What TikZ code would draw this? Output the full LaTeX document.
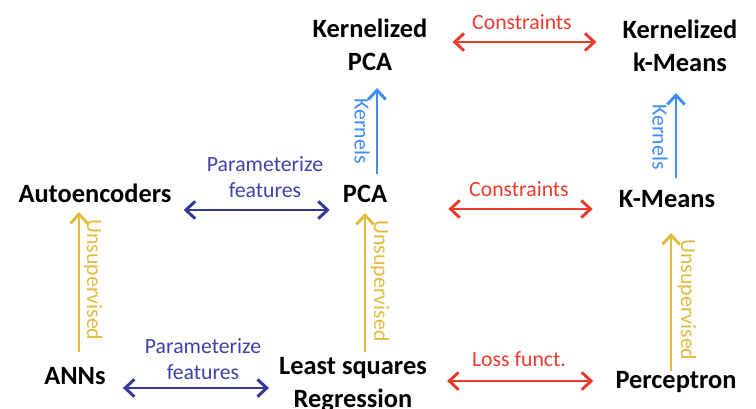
\documentclass[tikz,border=0pt]{standalone}
\usepackage{fontspec}
\setmainfont{Carlito}
\usetikzlibrary{arrows.meta}
\definecolor{pfblue}{RGB}{50,54,152}
\definecolor{pftext}{RGB}{62,66,168}
\definecolor{conred}{RGB}{236,58,44}
\definecolor{unsgold}{RGB}{228,186,62}
\definecolor{kernblue}{RGB}{62,140,244}
\begin{document}
\begin{tikzpicture}[x=0.75pt,y=-0.75pt,
  algo/.style={inner sep=0pt,anchor=base,align=center,font=\fontsize{19.8}{24.5}\selectfont\bfseries},
  rel/.style={inner sep=0pt,anchor=base,align=center,font=\fontsize{16.3}{19.5}\selectfont},
  vrel/.style={inner sep=0pt,rotate=-90,font=\fontsize{16.3}{19.5}\selectfont},
  link/.style={line width=2.2pt,{Straight Barb[length=7pt,width=13pt]}-{Straight Barb[length=7pt,width=13pt]}},
  up/.style={line width=2.2pt,-{Straight Barb[length=7pt,width=13pt]}}]
\useasboundingbox (0,0) rectangle (756,408);
% methods
\node[algo] (kpca) at (370,70) {Kernelized\\PCA};
\node[algo] (kkm) at (680,71) {Kernelized\\k-Means};
\node[algo] (auto) at (95,202) {Autoencoders};
\node[algo] (pca) at (365,202) {PCA};
\node[algo] (km) at (667,207) {K-Means};
\node[algo] (ann) at (75,384) {ANNs};
\node[algo] (lsq) at (353,407) {Least squares\\Regression};
\node[algo] (perc) at (676,388) {Perceptron};
% horizontal relations
\draw[link,conred] ([shift={(25,-28)}]kpca.base east) -- ([shift={(-26,-29)}]kkm.base west);
\node[rel,text=conred] (c1) at (522,29) {Constraints};
\draw[link,pfblue] ([shift={(12,8)}]auto.base east) -- ([shift={(-13,8)}]pca.base west);
\node[rel,text=pftext] (p1) at (265,197) {Parameterize\\features};
\draw[link,conred] ([shift={(61,7)}]pca.base east) -- ([shift={(-26,2)}]km.base west);
\node[rel,text=conred] (c2) at (519,196) {Constraints};
\draw[link,pfblue] ([shift={(17,4)}]ann.base east) -- ([shift={(-10,-19)}]lsq.base west);
\node[rel,text=pftext] (p2) at (203,379) {Parameterize\\features};
\draw[link,conred] ([shift={(20,-26)}]lsq.base east) -- ([shift={(-22,-7)}]perc.base west);
\node[rel,text=conred] (l1) at (519,366) {Loss funct.};
% vertical relations
\draw[up,kernblue] ([shift={(12,-28)}]pca.base) -- ([shift={(7,18)}]kpca.base);
\node[vrel,text=kernblue] (k1) at (362,131) {Kernels};
\draw[up,kernblue] ([shift={(9,-29)}]km.base) -- ([shift={(-4,22)}]kkm.base);
\node[vrel,text=kernblue] (k2) at (660,137) {Kernels};
\draw[up,unsgold] ([shift={(4,-32)}]ann.base) -- ([shift={(-16,10)}]auto.base);
\node[vrel,text=unsgold] (u1) at (93,280) {Unsupervised};
\draw[up,unsgold] ([shift={(12,-55)}]lsq.base) -- ([shift={(0,11)}]pca.base);
\node[vrel,text=unsgold] (u2) at (380,281) {Unsupervised};
\draw[up,unsgold] ([shift={(-5,-17)}]perc.base) -- ([shift={(4,26)}]km.base);
\node[vrel,text=unsgold] (u3) at (687,300) {Unsupervised};
\end{tikzpicture}
\end{document}
